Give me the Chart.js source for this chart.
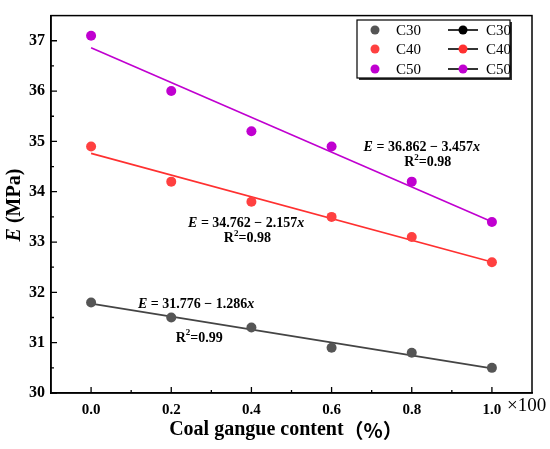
<!DOCTYPE html>
<html>
<head>
<meta charset="utf-8">
<script src="https://cdn.jsdelivr.net/npm/chart.js@4"></script>
<style>
  body { margin: 0; background: #fff; }
  #wrap { width: 550px; height: 449px; }
</style>
</head>
<body>
<div id="wrap"><canvas id="chart" width="550" height="449"></canvas></div>
<script>
// values
const contents = [0, 0.2, 0.4, 0.6, 0.8, 1.0];
const c30 = [31.8, 31.5, 31.3, 30.9, 30.8, 30.5];
const c40 = [34.9, 34.2, 33.8, 33.5, 33.1, 32.6];
const c50 = [37.1, 36.0, 35.2, 34.9, 34.2, 33.4];

// fitted lines, end points at x = 0 and x = 1
const fitX = [0, 1];
const fit30 = [31.776, 30.49];
const fit40 = [34.762, 32.605];
const fit50 = [36.862, 33.405];

const xTicks = [0, 0.2, 0.4, 0.6, 0.8, 1.0];
const xMinor = [0.1, 0.3, 0.5, 0.7, 0.9];
const yTicks = [30, 31, 32, 33, 34, 35, 36, 37];
const yMinor = [30.5, 31.5, 32.5, 33.5, 34.5, 35.5, 36.5, 37];

const seriesNames = ['C30', 'C40', 'C50'];
const dotColors = ['#555555', '#ff4040', '#c000d0'];
const lineColors = ['#444444', '#ff3030', '#c000d0'];

const equations = [
  { a: '31.776', b: '1.286', r2: '0.99', eq: [0.262, 31.77], r: [0.27, 31.09] },
  { a: '34.762', b: '2.157', r2: '0.98', eq: [0.387, 33.38], r: [0.39, 33.07] },
  { a: '36.862', b: '3.457', r2: '0.98', eq: [0.825, 34.89], r: [0.84, 34.58] }
];

const serif = '"Liberation Serif", "Times New Roman", serif';

function pts(xs, ys) {
  return xs.map((x, i) => ({ x: x, y: ys[i] }));
}

const datasets = [];
[c30, c40, c50].forEach((vals, i) => {
  datasets.push({
    label: seriesNames[i],
    data: pts(contents, vals),
    backgroundColor: dotColors[i],
    borderColor: dotColors[i],
    pointRadius: 5,
    pointBorderWidth: 0,
    showLine: false,
    order: 0
  });
});
[fit30, fit40, fit50].forEach((vals, i) => {
  datasets.push({
    label: seriesNames[i] + ' fit',
    data: pts(fitX, vals),
    borderColor: lineColors[i],
    borderWidth: 1.6,
    pointRadius: 0,
    showLine: true,
    order: 1
  });
});

// draw mixed-font text centred on (cx, cy)
function drawRuns(ctx, runs, cx, cy) {
  let total = 0;
  runs.forEach(r => { ctx.font = r.font; total += ctx.measureText(r.t).width; });
  let x = cx - total / 2;
  ctx.textBaseline = 'middle';
  ctx.textAlign = 'left';
  runs.forEach(r => {
    ctx.font = r.font;
    ctx.fillText(r.t, x, cy + (r.dy || 0));
    x += ctx.measureText(r.t).width;
  });
}

const decorations = {
  id: 'decorations',
  afterDraw(chart) {
    const ctx = chart.ctx;
    const area = chart.chartArea;
    const xs = chart.scales.x;
    const ys = chart.scales.y;
    ctx.save();

    // frame
    ctx.strokeStyle = '#000';
    ctx.lineWidth = 1.5;
    ctx.strokeRect(area.left, area.top, area.right - area.left, area.bottom - area.top);

    // inward ticks
    ctx.lineWidth = 1.3;
    ctx.beginPath();
    xTicks.forEach(v => { const p = xs.getPixelForValue(v); ctx.moveTo(p, area.bottom); ctx.lineTo(p, area.bottom - 6); });
    xMinor.forEach(v => { const p = xs.getPixelForValue(v); ctx.moveTo(p, area.bottom); ctx.lineTo(p, area.bottom - 3); });
    yTicks.forEach(v => { const p = ys.getPixelForValue(v); ctx.moveTo(area.left, p); ctx.lineTo(area.left + 6, p); });
    yMinor.forEach(v => { const p = ys.getPixelForValue(v); ctx.moveTo(area.left, p); ctx.lineTo(area.left + 3, p); });
    ctx.stroke();

    // legend box with shadow
    const lx = 357, ly = 20, lw = 153, lh = 58;
    ctx.fillStyle = '#333';
    ctx.fillRect(lx + 2, ly + 2, lw, lh);
    ctx.fillStyle = '#fff';
    ctx.fillRect(lx, ly, lw, lh);
    ctx.lineWidth = 1.2;
    ctx.strokeStyle = '#000';
    ctx.strokeRect(lx, ly, lw, lh);
    ctx.font = '15px ' + serif;
    ctx.textBaseline = 'middle';
    ctx.textAlign = 'left';
    const rows = [30, 49, 69];
    seriesNames.forEach((name, i) => {
      const y = rows[i];
      ctx.fillStyle = dotColors[i];
      ctx.beginPath(); ctx.arc(375, y, 4.5, 0, Math.PI * 2); ctx.fill();
      ctx.fillStyle = '#000';
      ctx.fillText(name, 396, y + 1);
      ctx.strokeStyle = '#000';
      ctx.lineWidth = 1.6;
      ctx.beginPath(); ctx.moveTo(448, y); ctx.lineTo(478, y); ctx.stroke();
      ctx.fillStyle = i === 0 ? '#000' : lineColors[i];
      ctx.beginPath(); ctx.arc(463, y, 4.5, 0, Math.PI * 2); ctx.fill();
      ctx.fillStyle = '#000';
      ctx.fillText(name, 486, y + 1);
    });

    // fit equations
    ctx.fillStyle = '#000';
    const b = 'bold 14px ' + serif;
    const bi = 'italic bold 14px ' + serif;
    equations.forEach(e => {
      const ex = xs.getPixelForValue(e.eq[0]), ey = ys.getPixelForValue(e.eq[1]);
      drawRuns(ctx, [
        { t: 'E', font: bi },
        { t: ' = ' + e.a + ' \u2212 ' + e.b, font: b },
        { t: 'x', font: bi }
      ], ex, ey);
      const rx = xs.getPixelForValue(e.r[0]), ry = ys.getPixelForValue(e.r[1]);
      drawRuns(ctx, [
        { t: 'R', font: b },
        { t: '2', font: 'bold 9px ' + serif, dy: -5 },
        { t: '=' + e.r2, font: b }
      ], rx, ry);
    });

    // x axis title and multiplier
    drawRuns(ctx, [
      { t: 'Coal gangue content', font: 'bold 20px ' + serif },
      { t: '\uff08%\uff09', font: 'bold 20px "Noto Sans CJK SC", ' + serif }
    ], 286, 430);
    ctx.font = '19px ' + serif;
    ctx.textAlign = 'left';
    ctx.fillText('\u00d7100', 507, 406);

    // y axis title
    ctx.translate(15, 205);
    ctx.rotate(-Math.PI / 2);
    drawRuns(ctx, [
      { t: 'E', font: 'italic bold 20px ' + serif },
      { t: ' (MPa)', font: 'bold 20px ' + serif }
    ], 0, 0);
    ctx.restore();
  }
};

new Chart(document.getElementById('chart'), {
  type: 'scatter',
  data: { datasets: datasets },
  options: {
    responsive: false,
    animation: false,
    layout: { padding: { top: 7, right: 18, left: 0, bottom: 0 } },
    plugins: { legend: { display: false }, tooltip: { enabled: false } },
    scales: {
      x: {
        type: 'linear',
        min: -0.1,
        max: 1.1,
        afterBuildTicks: s => { s.ticks = xTicks.map(v => ({ value: v })); },
        afterFit: s => { s.height = 56; },
        grid: { display: false, drawTicks: false },
        border: { display: true, color: '#000', width: 1.5 },
        ticks: {
          padding: 8,
          color: '#000',
          font: { family: serif, size: 15, weight: 'bold' },
          callback: v => Number(v).toFixed(1)
        }
      },
      y: {
        type: 'linear',
        min: 30,
        max: 37.5,
        afterBuildTicks: s => { s.ticks = yTicks.map(v => ({ value: v })); },
        afterFit: s => { s.width = 51; },
        grid: { display: false, drawTicks: false },
        border: { display: true, color: '#000', width: 1.5 },
        ticks: {
          padding: 6,
          color: '#000',
          font: { family: serif, size: 16, weight: 'bold' },
          callback: v => String(v)
        }
      }
    }
  },
  plugins: [decorations]
});
</script>
</body>
</html>
